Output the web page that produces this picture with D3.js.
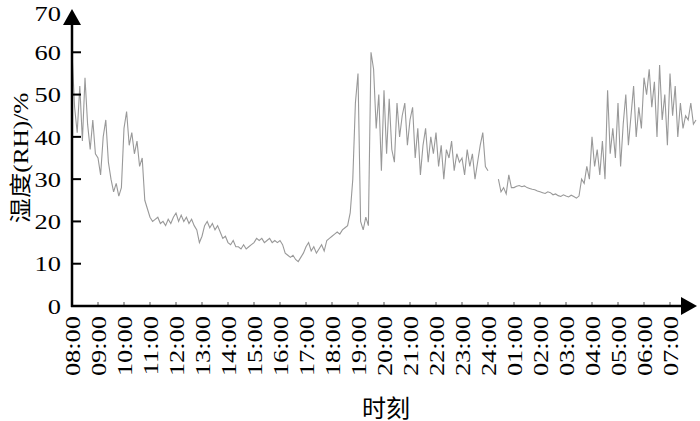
<!DOCTYPE html>
<html>
<head>
<meta charset="utf-8">
<script src="https://cdn.jsdelivr.net/npm/d3@7"></script>
<style>
  body { margin: 0; background: #fff; }
  svg { display: block; }
  text { font-family: "Liberation Serif", "Times New Roman", serif; fill: #000; }
  .cjk { font-family: "Liberation Serif", "Noto Sans CJK SC", serif; }
</style>
</head>
<body>
<svg id="chart" width="700" height="421"></svg>
<script>
// hour labels along the x axis (08:00 ... 07:00 next day)
let hourLabels = [
  "08:00", "09:00", "10:00", "11:00", "12:00", "13:00", "14:00", "15:00",
  "16:00", "17:00", "18:00", "19:00", "20:00", "21:00", "22:00", "23:00",
  "24:00", "01:00", "02:00", "03:00", "04:00", "05:00", "06:00", "07:00",
];
let yTicks = [0, 10, 20, 30, 40, 50, 60];

// humidity readings, 10 per hour (every 6 min)
let rhMorning = [ // 08:00 - 12:00
  60, 47, 41, 52, 39, 54, 43, 37, 44, 36,
  35, 31, 40, 44, 34, 30, 27, 29, 26, 28,
  42, 46, 38, 41, 36, 39, 33, 35, 25, 23,
  21, 20, 20.5, 21, 19.5, 20, 19, 20.5, 19.5, 21,
];
let rhNoon = [ // 12:00 - 16:00
  22, 20, 21.5, 20, 21, 19.5, 20.5, 19, 18, 15,
  16.5, 19, 20, 18.5, 19.5, 18, 19, 17.5, 16, 16.5,
  15, 14.5, 15.5, 14, 14, 13.5, 14.5, 13.5, 14, 14.5,
  15, 16, 15.5, 16, 15, 15.5, 16, 15, 15.5, 15,
];
let rhEvening = [ // 16:00 - 20:00
  15.5, 14.5, 12.5, 12, 11.5, 12, 11, 10.5, 11.5, 12.5,
  14, 15, 13, 14, 12.5, 13.5, 14.5, 13, 15.5, 16,
  16.5, 17, 17.5, 17, 18, 18.5, 19, 22, 30, 48,
  55, 20, 18, 21, 19, 60, 56, 42, 50, 32,
];
let rhNight = [ // 20:00 - 24:00
  51, 36, 49, 37, 34, 48, 40, 45, 48, 38,
  44, 47, 35, 42, 31, 38, 42, 34, 40, 36,
  41, 33, 38, 30, 37, 35, 39, 32, 36, 34,
  35, 31, 37, 33, 36, 30, 34, 38, 41, 33,
];
let rhSmallHours = [ // 24:00 - 04:00 (short gap after midnight)
  32, null, null, null, 30, 27, 28, 26.5, 31, 28,
  28, 28.3, 28.5, 28.2, 28.4, 28, 27.8, 27.6, 27.5, 27.2,
  27, 26.8, 26.6, 27, 26.8, 26.3, 26.5, 26.1, 25.9, 26.3,
  26, 25.8, 26.2, 25.9, 25.5, 26, 30, 29, 33, 30,
];
let rhDawn = [ // 04:00 - 08:00
  40, 33, 37, 31, 39, 30, 51, 36, 42, 35,
  48, 33, 43, 50, 38, 45, 52, 40, 47, 42,
  54, 50, 56, 47, 53, 40, 57, 44, 50, 38,
  55, 45, 52, 40, 48, 42, 45, 44, 48, 43,
  44,
];

let rh = [].concat(rhMorning, rhNoon, rhEvening, rhNight, rhSmallHours, rhDawn);
let data = rh.map((v, i) => ({ t: i / 10, v }));

let svg = d3.select("#chart");

let x = d3.scaleLinear().domain([0, 24]).range([72, 696]);
let y = d3.scaleLinear().domain([0, 70]).range([306, 10]);

// data line
let line = d3.line()
  .defined((d) => d.v !== null)
  .x((d) => x(d.t))
  .y((d) => y(d.v));

svg.append("path")
  .datum(data)
  .attr("fill", "none")
  .attr("stroke", "#999")
  .attr("stroke-width", 1.1)
  .attr("d", line);

// x axis: small inward ticks at each hour
let xAxis = svg.append("g").attr("transform", "translate(0,306)");
xAxis.selectAll("line.tick")
  .data(d3.range(1, 24))
  .join("line")
  .attr("class", "tick")
  .attr("x1", (d) => x(d)).attr("x2", (d) => x(d))
  .attr("y1", 0).attr("y2", -4)
  .attr("stroke", "#555")
  .attr("stroke-width", 1);
xAxis.append("line")
  .attr("x1", x(0) - 1).attr("x2", 684)
  .attr("stroke", "#000").attr("stroke-width", 2.5);
xAxis.append("path")
  .attr("d", "M681,-9L697,0L681,9Z")
  .attr("fill", "#000");

xAxis.selectAll("text")
  .data(hourLabels)
  .join("text")
  .attr("transform", (d, i) => `translate(${x(i)},10) rotate(-90) scale(1.2,1)`)
  .attr("dy", "0.35em")
  .attr("text-anchor", "end")
  .attr("font-size", 22)
  .text((d) => d);

// y axis
let yAxis = svg.append("g").attr("transform", "translate(72,0)");
yAxis.selectAll("line.tick")
  .data(yTicks.slice(1))
  .join("line")
  .attr("class", "tick")
  .attr("x1", 0).attr("x2", 9)
  .attr("y1", (d) => y(d)).attr("y2", (d) => y(d))
  .attr("stroke", "#000").attr("stroke-width", 2);
yAxis.append("line")
  .attr("y1", 307).attr("y2", 22)
  .attr("stroke", "#000").attr("stroke-width", 2.5);
yAxis.append("path")
  .attr("d", "M-9,25L0,9L9,25Z")
  .attr("fill", "#000");

// "70" sits at the arrow tip, nudged down so it stays inside the frame
yAxis.selectAll("text")
  .data(yTicks.concat([70]))
  .join("text")
  .attr("transform", (d) => `translate(-11,${Math.max(y(d), 13)}) scale(1.2,1)`)
  .attr("dy", "0.35em")
  .attr("text-anchor", "end")
  .attr("font-size", 22)
  .text((d) => d);

// axis titles
svg.append("text")
  .attr("class", "cjk")
  .attr("transform", "translate(20,158) rotate(-90) scale(1.15,1)")
  .attr("dy", "0.35em")
  .attr("text-anchor", "middle")
  .attr("font-size", 22)
  .text("湿度(RH)/%");

svg.append("text")
  .attr("class", "cjk")
  .attr("x", 386)
  .attr("y", 417)
  .attr("text-anchor", "middle")
  .attr("font-size", 24)
  .text("时刻");
</script>
</body>
</html>
